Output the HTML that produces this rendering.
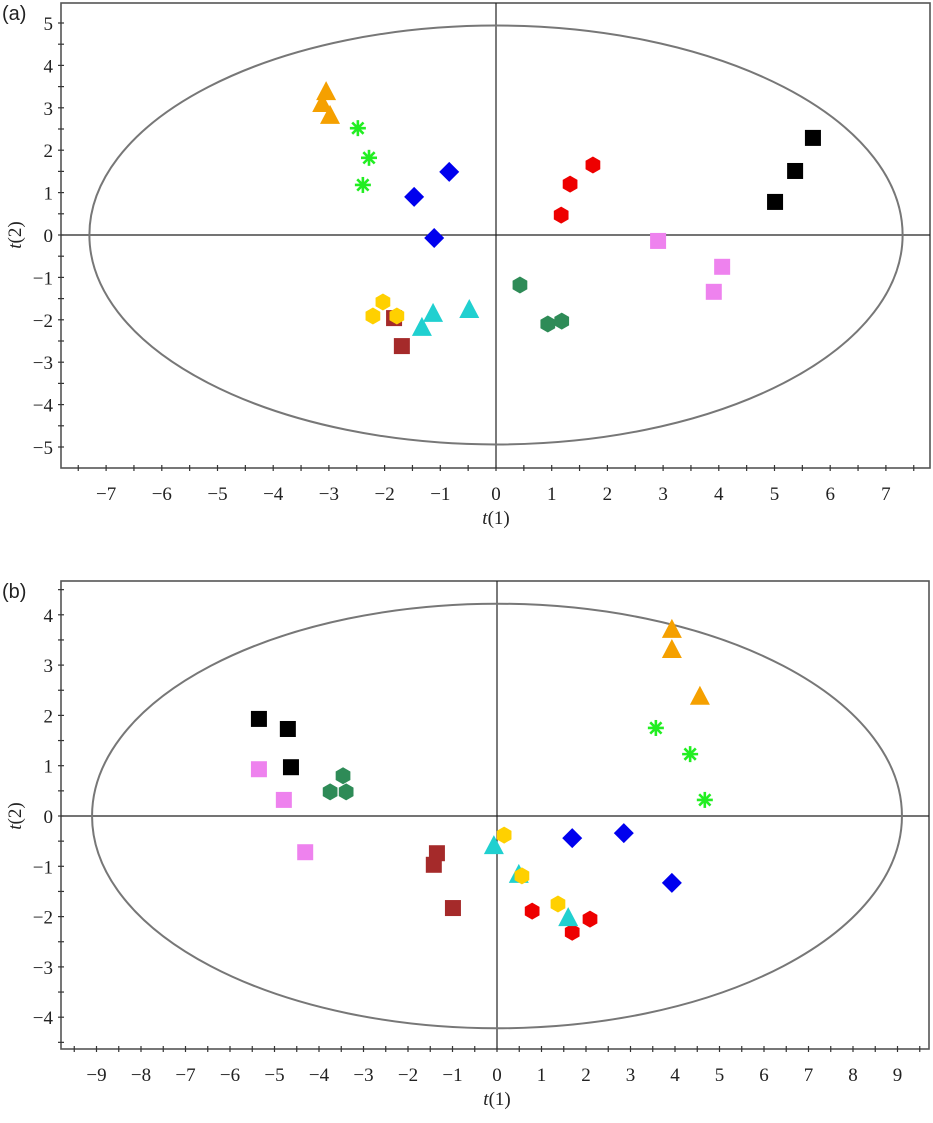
<!DOCTYPE html>
<html><head><meta charset="utf-8"><style>
body{margin:0;background:#fff;width:933px;height:1123px;overflow:hidden}
svg{position:absolute;left:0;top:0}
</style></head><body>
<svg id="s" width="933" height="1123" xmlns="http://www.w3.org/2000/svg"></svg>
<script>
// Panel (a) data
const aOrange=[[-3.05,3.37],[-3.12,3.09],[-2.98,2.81]];
const aGreen=[[-2.48,2.52],[-2.28,1.82],[-2.39,1.18]];
const aBlue=[[-0.84,1.49],[-1.47,0.90],[-1.11,-0.07]];
const aRed=[[1.74,1.65],[1.33,1.20],[1.17,0.47]];
const aBlack=[[5.69,2.29],[5.37,1.51],[5.01,0.78]];
const aPink=[[2.91,-0.14],[4.06,-0.75],[3.91,-1.34]];
const aDkgreen=[[0.43,-1.18],[0.93,-2.10],[1.18,-2.03]];
const aYellow=[[-2.03,-1.58],[-2.21,-1.91],[-1.78,-1.91]];
const aBrown=[[-1.83,-1.96],[-1.69,-2.62]];
const aCyan=[[-1.13,-1.86],[-1.33,-2.19],[-0.48,-1.77]];
const aXTicks=[-7,-6,-5,-4,-3,-2,-1,0,1,2,3,4,5,6,7];
const aYTicks=[5,4,3,2,1,0,-1,-2,-3,-4,-5];
const aEllipse=[7.3,4.94];
// Panel (b) data
const bOrange=[[3.93,3.70],[3.93,3.30],[4.56,2.37]];
const bGreen=[[3.57,1.75],[4.34,1.23],[4.67,0.32]];
const bBlack=[[-5.35,1.93],[-4.70,1.73],[-4.63,0.97]];
const bPink=[[-5.35,0.93],[-4.79,0.32],[-4.31,-0.72]];
const bDkgreen=[[-3.46,0.80],[-3.75,0.48],[-3.39,0.48]];
const bBrown=[[-1.35,-0.74],[-1.42,-0.97],[-0.99,-1.83]];
const bCyan=[[-0.07,-0.60],[0.49,-1.17],[1.60,-2.03]];
const bYellow=[[0.16,-0.38],[0.56,-1.19],[1.37,-1.75]];
const bRed=[[0.79,-1.89],[1.69,-2.31],[2.09,-2.05]];
const bBlue=[[1.69,-0.44],[2.85,-0.34],[3.93,-1.33]];
const bXTicks=[-9,-8,-7,-6,-5,-4,-3,-2,-1,0,1,2,3,4,5,6,7,8,9];
const bYTicks=[4,3,2,1,0,-1,-2,-3,-4];
const bEllipse=[9.1,4.22];

const S=document.getElementById('s');
const NS='http://www.w3.org/2000/svg';
function mk(tag,attrs,parent,name){const e=document.createElementNS(NS,tag);for(const k in attrs)e.setAttribute(k,attrs[k]);


(parent||S).appendChild(e);return e;}

function panel(cfg){
 const g=mk('g',{},S,cfg.name);
 const X=v=>cfg.x0+v*cfg.ux, Y=v=>cfg.y0-v*cfg.uy;
 mk('rect',{x:cfg.L,y:cfg.T,width:cfg.R-cfg.L,height:cfg.B-cfg.T,fill:'none',stroke:'#555','stroke-width':1.6},g,'plot-frame');
 mk('line',{x1:cfg.L,x2:cfg.R,y1:Y(0),y2:Y(0),stroke:'#222','stroke-width':1.2},g,'zero-h-line');
 mk('line',{x1:X(0),x2:X(0),y1:cfg.T,y2:cfg.B,stroke:'#222','stroke-width':1.2},g,'zero-v-line');
 mk('ellipse',{cx:X(0),cy:Y(0),rx:cfg.ell[0]*cfg.ux,ry:cfg.ell[1]*cfg.uy,fill:'none',stroke:'#777','stroke-width':2},g,'hotelling-ellipse');
 // ticks
 for(let v=cfg.xt[0]-0.5;v<=cfg.xt[cfg.xt.length-1]+0.6;v+=0.5){const x=X(v);if(x<=cfg.L+2||x>=cfg.R-2)continue;
  mk('line',{x1:x,x2:x,y1:cfg.B-3,y2:cfg.B+3,stroke:'#333','stroke-width':1.2},g,'x-tick');}
 for(let v=cfg.yt[cfg.yt.length-1]-0.5;v<=cfg.yt[0]+0.6;v+=0.5){const y=Y(v);if(y<=cfg.T+2||y>=cfg.B-2)continue;
  mk('line',{x1:cfg.L-3,x2:cfg.L+3,y1:y,y2:y,stroke:'#333','stroke-width':1.2},g,'y-tick');}
 cfg.xt.forEach(v=>{const t=mk('text',{x:X(v),y:cfg.B+32,'text-anchor':'middle','font-family':'Liberation Serif, serif','font-size':19,fill:'#222'},g,'x-tick-label');t.textContent=v<0?'\u2212'+(-v):v;});
 cfg.yt.forEach(v=>{const t=mk('text',{x:cfg.L-8,y:Y(v)+7,'text-anchor':'end','font-family':'Liberation Serif, serif','font-size':19,fill:'#222'},g,'y-tick-label');t.textContent=v<0?'\u2212'+(-v):v;});
 const xl=mk('text',{x:X(0),y:cfg.B+56,'text-anchor':'middle','font-family':'Liberation Serif, serif','font-size':19,fill:'#222'},g,'x-axis-title');xl.innerHTML='<tspan font-style="italic">t</tspan>(1)';
 const yl=mk('text',{x:0,y:0,'text-anchor':'middle','font-family':'Liberation Serif, serif','font-size':19,fill:'#222',transform:`translate(21,${Y(0)}) rotate(-90)`},g,'y-axis-title');yl.innerHTML='<tspan font-style="italic">t</tspan>(2)';
 const pl=mk('text',{x:2,y:cfg.T+17,'font-family':'Liberation Sans, sans-serif','font-size':20,fill:'#222'},g,'panel-label');pl.textContent=cfg.label;
 cfg.series.forEach(([pts,shape,col,nm])=>{pts.forEach(p=>{const x=X(p[0]),y=Y(p[1]);let e;
  if(shape==='sq')e=mk('rect',{x:x-8,y:y-8,width:16,height:16,fill:col},g,nm);
  else if(shape==='di')e=mk('polygon',{points:`${x},${y-10} ${x+10},${y} ${x},${y+10} ${x-10},${y}`,fill:col},g,nm);
  else if(shape==='ci')e=mk('polygon',{points:[0,1,2,3,4,5].map(i=>{const a=Math.PI/3*i+Math.PI/6;return (x+8.5*Math.cos(a))+','+(y+8.5*Math.sin(a));}).join(' '),fill:col},g,nm);
  else if(shape==='tr')e=mk('polygon',{points:`${x},${y-11} ${x+10},${y+8} ${x-10},${y+8}`,fill:col},g,nm);
  else if(shape==='as'){e=mk('g',{},g,nm);for(let i=0;i<4;i++){const a=Math.PI/4*i;mk('line',{x1:x-8*Math.cos(a),y1:y-8*Math.sin(a),x2:x+8*Math.cos(a),y2:y+8*Math.sin(a),stroke:col,'stroke-width':2.6},e,'asterisk-stroke');}}
 });});
}
panel({name:'panel-a',label:'(a)',L:61,R:930,T:3,B:468,x0:496,ux:55.7,y0:235,uy:42.4,xt:aXTicks,yt:aYTicks,ell:aEllipse,
series:[[aOrange,'tr','#f5a000','orange-triangle'],[aGreen,'as','#22ee22','green-asterisk'],[aBlue,'di','#0000ee','blue-diamond'],[aRed,'ci','#ee0000','red-circle'],[aBlack,'sq','#000','black-square'],[aPink,'sq','#ee82ee','pink-square'],[aDkgreen,'ci','#2e8b57','darkgreen-circle'],[aBrown,'sq','#a52a2a','brown-square'],[aYellow,'ci','#ffd000','yellow-circle'],[aCyan,'tr','#20d0d0','cyan-triangle']]});
panel({name:'panel-b',label:'(b)',L:61,R:929,T:581,B:1049,x0:497,ux:44.5,y0:816,uy:50.3,xt:bXTicks,yt:bYTicks,ell:bEllipse,
series:[[bOrange,'tr','#f5a000','orange-triangle'],[bGreen,'as','#22ee22','green-asterisk'],[bBlue,'di','#0000ee','blue-diamond'],[bRed,'ci','#ee0000','red-circle'],[bBlack,'sq','#000','black-square'],[bPink,'sq','#ee82ee','pink-square'],[bDkgreen,'ci','#2e8b57','darkgreen-circle'],[bBrown,'sq','#a52a2a','brown-square'],[bCyan,'tr','#20d0d0','cyan-triangle'],[bYellow,'ci','#ffd000','yellow-circle']]});
</script>
</body></html>
